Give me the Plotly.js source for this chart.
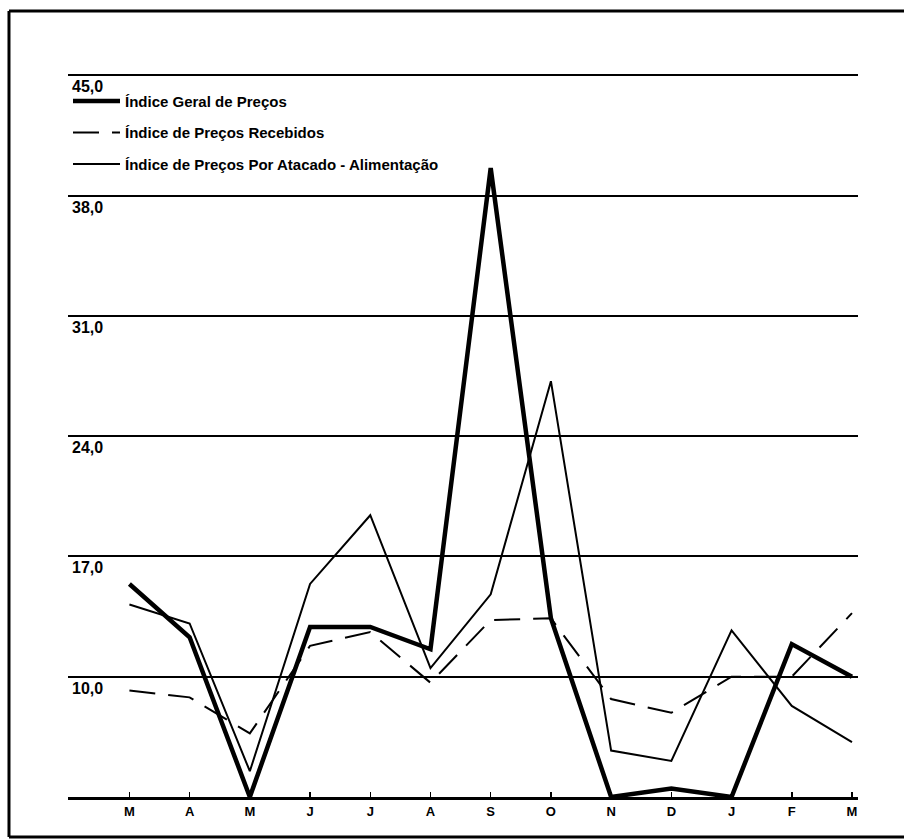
<!DOCTYPE html>
<html>
<head>
<meta charset="utf-8">
<script src="https://cdn.plot.ly/plotly-3.0.1.min.js"></script>
<style>html,body{margin:0;padding:0;background:#fff;overflow:hidden;}#chart{width:904px;height:840px;}</style>
</head>
<body>
<div id="chart"></div>
<script>
// Data
const monthIndex = [0,1,2,3,4,5,6,7,8,9,10,11,12];
const monthLabels = ['M','A','M','J','J','A','S','O','N','D','J','F','M'];
const geral = [15.4, 12.3, 3.0, 12.9, 12.9, 11.6, 39.6, 13.4, 3.0, 3.5, 3.0, 11.9, 10.0];
const recebidos = [9.2, 8.8, 6.7, 11.8, 12.6, 9.65, 13.3, 13.4, 8.7, 7.9, 10.0, 10.0, 13.7];
const atacado = [14.2, 13.1, 4.5, 15.4, 19.4, 10.5, 14.8, 27.2, 5.7, 5.1, 12.7, 8.3, 6.2];
const yTicks = [10, 17, 24, 31, 38, 45];
const yTickLabels = ['10,0', '17,0', '24,0', '31,0', '38,0', '45,0'];
const seriesNames = ['Índice Geral de Preços', 'Índice de Preços Recebidos', 'Índice de Preços Por Atacado - Alimentação'];

const boldFont = {family: 'Liberation Sans, Arial, sans-serif', size: 15, color: '#000', weight: 700};

const traces = [
  {x: monthIndex, y: geral, name: seriesNames[0], type: 'scatter', mode: 'lines',
   line: {color: '#000', width: 4.5}, legendgroup: 'g1'},
  {x: monthIndex, y: recebidos, name: seriesNames[1], type: 'scatter', mode: 'lines',
   line: {color: '#000', width: 2, dash: '26px,13px'}, legendgroup: 'g2'},
  {x: monthIndex, y: atacado, name: seriesNames[2], type: 'scatter', mode: 'lines',
   line: {color: '#000', width: 2}, legendgroup: 'g3'}
];

const annotations = yTicks.map((v, i) => ({
  xref: 'paper', yref: 'y', x: 0, y: v, xanchor: 'left', yanchor: 'top',
  xshift: 2, yshift: -1, text: yTickLabels[i], showarrow: false,
  font: {family: 'Liberation Sans, Arial, sans-serif', size: 16, color: '#000', weight: 700}
}));

const frameLine = {color: '#000', width: 3};
const layout = {
  width: 904, height: 840,
  margin: {l: 68, r: 46, t: 74, b: 43},
  paper_bgcolor: '#fff', plot_bgcolor: '#fff',
  showlegend: true,
  hovermode: false,
  legend: {
    x: 0, y: 0.985, xanchor: 'left', yanchor: 'top',
    bgcolor: 'rgba(0,0,0,0)', font: boldFont,
    traceorder: 'grouped', tracegroupgap: 9, itemwidth: 47
  },
  xaxis: {
    range: [-1.02, 12.1], tickvals: monthIndex, ticktext: monthLabels,
    showgrid: false, zeroline: false,
    showline: true, linecolor: '#000', linewidth: 3,
    ticks: 'inside', ticklen: 5, tickcolor: '#000', tickwidth: 1.5,
    tickfont: {family: 'Liberation Sans, Arial, sans-serif', size: 13, color: '#000', weight: 700},
    fixedrange: true
  },
  yaxis: {
    range: [3, 45.08], tickvals: yTicks, showticklabels: false,
    showgrid: true, gridcolor: '#000', gridwidth: 2,
    zeroline: false, showline: false, ticks: '', fixedrange: true
  },
  annotations: annotations,
  shapes: [
    {type: 'line', xref: 'paper', yref: 'paper', x0: -0.0747, x1: 1.1, y0: 1.087, y1: 1.087, line: frameLine, layer: 'below'},
    {type: 'line', xref: 'paper', yref: 'paper', x0: -0.0747, x1: -0.0747, y0: -0.0554, y1: 1.087, line: frameLine, layer: 'below'},
    {type: 'line', xref: 'paper', yref: 'paper', x0: -0.0747, x1: 1.1, y0: -0.0554, y1: -0.0554, line: frameLine, layer: 'below'}
  ]
};

Plotly.newPlot('chart', traces, layout, {displayModeBar: false, staticPlot: true});
</script>
</body>
</html>
